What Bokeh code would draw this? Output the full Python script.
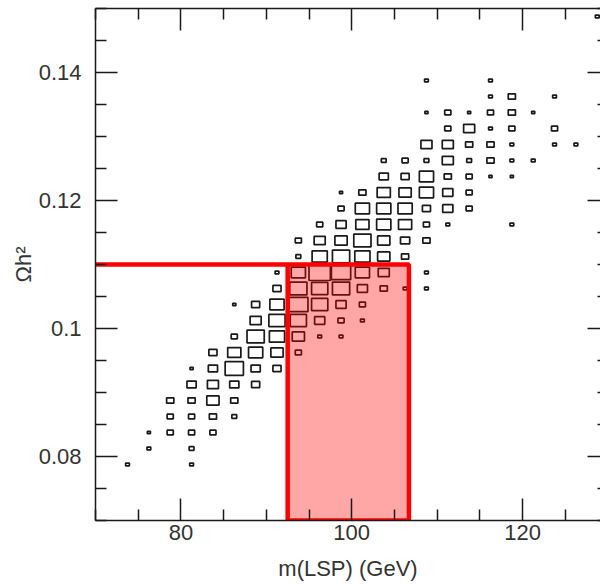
import math
from bokeh.plotting import figure
from bokeh.models import Range1d, LinearAxis, FixedTicker, ColumnDataSource
from bokeh.embed import file_html
from bokeh.resources import INLINE

# ---------------- data (2D histogram cells: bin centres and entries) ----------------
lsp_mass = [
    73.75,
    76.25, 76.25,
    78.75, 78.75, 78.75,
    81.25, 81.25, 81.25, 81.25, 81.25, 81.25, 81.25,
    83.75, 83.75, 83.75, 83.75, 83.75, 83.75,
    86.25, 86.25, 86.25, 86.25, 86.25, 86.25, 86.25,
    88.75, 88.75, 88.75, 88.75, 88.75, 88.75,
    91.25, 91.25, 91.25, 91.25, 91.25, 91.25, 91.25,
    93.75, 93.75, 93.75, 93.75, 93.75, 93.75, 93.75, 93.75,
    96.25, 96.25, 96.25, 96.25, 96.25, 96.25, 96.25, 96.25,
    98.75, 98.75, 98.75, 98.75, 98.75, 98.75, 98.75, 98.75, 98.75, 98.75,
    101.25, 101.25, 101.25, 101.25, 101.25, 101.25, 101.25, 101.25, 101.25,
    103.75, 103.75, 103.75, 103.75, 103.75, 103.75, 103.75, 103.75, 103.75,
    106.25, 106.25, 106.25, 106.25, 106.25, 106.25, 106.25, 106.25,
    108.75, 108.75, 108.75, 108.75, 108.75, 108.75, 108.75, 108.75, 108.75, 108.75, 108.75,
    111.25, 111.25, 111.25, 111.25, 111.25, 111.25, 111.25, 111.25,
    113.75, 113.75, 113.75, 113.75, 113.75, 113.75, 113.75,
    116.25, 116.25, 116.25, 116.25, 116.25, 116.25, 116.25,
    118.75, 118.75, 118.75, 118.75, 118.75, 118.75, 118.75,
    121.25, 121.25,
    123.75, 123.75, 123.75,
    126.25,
    128.75,
]

omega_h2 = [
    0.07875,
    0.08125, 0.08375,
    0.08375, 0.08625, 0.08875,
    0.07875, 0.08125, 0.08375, 0.08625, 0.08875, 0.09125, 0.09375,
    0.08375, 0.08625, 0.08875, 0.09125, 0.09375, 0.09625,
    0.08625, 0.08875, 0.09125, 0.09375, 0.09625, 0.09875, 0.10375,
    0.09125, 0.09375, 0.09625, 0.09875, 0.10125, 0.10375,
    0.09375, 0.09625, 0.09875, 0.10125, 0.10375, 0.10625, 0.10875,
    0.09625, 0.09875, 0.10125, 0.10375, 0.10625, 0.10875, 0.11125, 0.11375,
    0.09875, 0.10125, 0.10375, 0.10625, 0.10875, 0.11125, 0.11375, 0.11625,
    0.09875, 0.10125, 0.10375, 0.10625, 0.10875, 0.11125, 0.11375, 0.11625, 0.11875, 0.12125,
    0.10125, 0.10375, 0.10625, 0.10875, 0.11125, 0.11375, 0.11625, 0.11875, 0.12125,
    0.10625, 0.10875, 0.11125, 0.11375, 0.11625, 0.11875, 0.12125, 0.12375, 0.12625,
    0.10625, 0.11125, 0.11375, 0.11625, 0.11875, 0.12125, 0.12375, 0.12625,
    0.10625, 0.10875, 0.11375, 0.11625, 0.11875, 0.12125, 0.12375, 0.12625, 0.12875, 0.13375, 0.13875,
    0.11625, 0.11875, 0.12125, 0.12375, 0.12625, 0.12875, 0.13125, 0.13375,
    0.11875, 0.12125, 0.12375, 0.12625, 0.12875, 0.13125, 0.13375,
    0.12375, 0.12625, 0.12875, 0.13125, 0.13375, 0.13625, 0.13875,
    0.11625, 0.12375, 0.12625, 0.12875, 0.13125, 0.13375, 0.13625,
    0.12625, 0.13375,
    0.12875, 0.13125, 0.13625,
    0.12875,
    0.14875,
]

entries = [
    3,
    3, 2,
    8, 8, 11,
    3, 5, 8, 8, 11, 18, 2,
    8, 11, 32, 26, 18, 14,
    5, 11, 18, 71, 37, 8, 2,
    14, 18, 43, 63, 26, 14,
    14, 32, 49, 56, 43, 14, 3,
    8, 32, 56, 79, 63, 43, 5, 8,
    3, 22, 56, 56, 97, 49, 26, 8,
    3, 8, 22, 63, 79, 63, 32, 22, 8, 2,
    3, 8, 22, 43, 49, 63, 37, 43, 11,
    11, 26, 32, 32, 43, 43, 37, 18, 5,
    3, 11, 18, 37, 43, 32, 14, 8,
    3, 3, 11, 8, 14, 43, 43, 5, 26, 2, 3,
    3, 22, 22, 11, 26, 26, 8, 8,
    8, 8, 8, 5, 11, 26, 2,
    2, 11, 11, 3, 8, 3, 3,
    3, 2, 3, 3, 8, 11, 11,
    3, 2,
    3, 8, 3,
    3,
    3,
]

assert len(lsp_mass) == len(omega_h2) == len(entries)

mass_bin_width = 2.5
omega_bin_width = 0.0025

# selection window (annotation)
window_mass = [92.5, 106.7]
omega_upper = 0.11

# axes ranges and ticks
x_lo, x_hi = 70.0, 129.13
y_lo, y_hi = 0.07, 0.15
x_major = [80, 100, 120]
x_minor = [70, 75, 85, 90, 95, 105, 110, 115, 125, 130]
y_major = [0.08, 0.10, 0.12, 0.14]
y_major_labels = ["0.08", "0.1", "0.12", "0.14"]
y_minor = [0.07, 0.075, 0.085, 0.09, 0.095, 0.105, 0.11, 0.115, 0.125, 0.13, 0.135, 0.145, 0.15]

# ---------------- figure ----------------
FONT = "Liberation Sans"
TXT = "#333333"
INK = "#1a1a1a"

p = figure(width=600, height=585, x_range=Range1d(x_lo, x_hi), y_range=Range1d(y_lo, y_hi),
           output_backend="svg", toolbar_location=None,
           min_border_left=95, min_border_right=0, min_border_top=8, min_border_bottom=65)
p.xgrid.visible = False
p.ygrid.visible = False
p.outline_line_color = None
p.background_fill_color = "white"
p.border_fill_color = "white"

cmax = max(entries)
scale = [math.sqrt(c / cmax) for c in entries]
src = ColumnDataSource(dict(
    x=lsp_mass, y=omega_h2,
    w=[mass_bin_width * s for s in scale],
    h=[omega_bin_width * s for s in scale],
))
p.rect(x="x", y="y", width="w", height="h", source=src,
       fill_color=None, line_color=INK, line_width=1.7)

# pink selection window drawn over the boxes
p.quad(left=[window_mass[0]], right=[window_mass[1]], bottom=[y_lo], top=[omega_upper],
       fill_color="#ff0000", fill_alpha=0.35, line_color="#ff0000", line_width=4.5)
p.segment(x0=[x_lo], y0=[omega_upper], x1=[window_mass[0]], y1=[omega_upper],
          line_color="#ff0000", line_width=4.5)


def style_axis(ax, major_in=22, minor_in=11):
    ax.major_tick_in = major_in
    ax.major_tick_out = 0
    ax.minor_tick_in = minor_in
    ax.minor_tick_out = 0
    ax.axis_line_color = INK
    ax.axis_line_width = 1.5
    ax.major_tick_line_color = INK
    ax.major_tick_line_width = 1.5
    ax.minor_tick_line_color = INK
    ax.minor_tick_line_width = 1.5
    ax.major_label_text_font = FONT
    ax.major_label_text_font_size = "22px"
    ax.major_label_text_color = TXT
    ax.axis_label_text_font = FONT
    ax.axis_label_text_font_size = "22px"
    ax.axis_label_text_font_style = "normal"
    ax.axis_label_text_color = TXT


xt = FixedTicker(ticks=x_major, minor_ticks=x_minor)
yt = FixedTicker(ticks=y_major, minor_ticks=y_minor)

bx = p.xaxis[0]
bx.ticker = xt
style_axis(bx)
bx.axis_label = "m(LSP) (GeV)"
bx.major_label_standoff = 4
bx.axis_label_standoff = 13

ly = p.yaxis[0]
ly.ticker = yt
style_axis(ly)
ly.major_label_overrides = {v: s for v, s in zip(y_major, y_major_labels)}
ly.axis_label = "Ωh²"
ly.major_label_standoff = 14
ly.axis_label_standoff = 0

top = LinearAxis(ticker=FixedTicker(ticks=x_major, minor_ticks=x_minor))
style_axis(top)
top.major_label_text_font_size = "0px"
top.major_label_standoff = 0
p.add_layout(top, "above")

right = LinearAxis(ticker=FixedTicker(ticks=y_major, minor_ticks=y_minor))
style_axis(right, major_in=13, minor_in=3)
right.axis_line_color = None
right.major_label_text_font_size = "0px"
right.major_label_standoff = 0
p.add_layout(right, "right")

open("out.html", "w").write(file_html(p, INLINE))
